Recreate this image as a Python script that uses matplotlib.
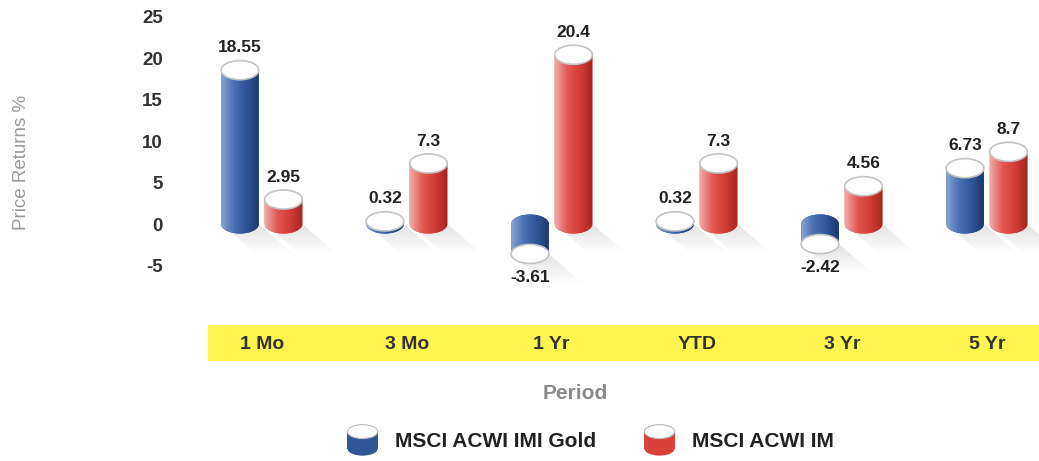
import numpy as np
import matplotlib
matplotlib.use("Agg")
import matplotlib.pyplot as plt
from matplotlib.path import Path
from matplotlib.patches import PathPatch, Ellipse, Rectangle, Polygon, Patch
from matplotlib.colors import LinearSegmentedColormap
from matplotlib.legend_handler import HandlerBase

plt.rcParams['font.family'] = ['Liberation Sans', 'DejaVu Sans']
plt.rcParams['axes.unicode_minus'] = False

# data
periods = ['1 Mo', '3 Mo', '1 Yr', 'YTD', '3 Yr', '5 Yr']
gold = [18.55, 0.32, -3.61, 0.32, -2.42, 6.73]
acwi = [2.95, 7.3, 20.4, 7.3, 4.56, 8.7]
series_names = ['MSCI ACWI IMI Gold', 'MSCI ACWI IM']

blue_cmap = LinearSegmentedColormap.from_list('b', ['#8aa6d2', '#4870b4', '#2e5698', '#1c3a6c'])
red_cmap = LinearSegmentedColormap.from_list('r', ['#f2aaa6', '#e2574f', '#d03c35', '#a52520'])
blue_main = '#2f5796'
red_main = '#d8423b'

W = 0.26     # bar width (x units)
EH = 2.3     # ellipse height (y units)
OFF = 0.15

shadow_rgba = np.zeros((64, 2, 4))
shadow_rgba[..., :3] = 0.6
shadow_rgba[..., 3] = np.linspace(0.0, 0.28, 64)[:, None]


def half_ellipse(cx, cy, w, h, upper):
    t = np.linspace(0, np.pi, 40) if upper else np.linspace(np.pi, 2 * np.pi, 40)
    return np.column_stack([cx + w / 2 * np.cos(t), cy + h / 2 * np.sin(t)])


def cylinder(ax, cx, v, cmap, main):
    lo, hi = min(0, v), max(0, v)
    # soft shadow falling to the lower right
    dx, dy = 0.24, 3.6
    sh = Polygon([(cx - W / 2, lo), (cx + W / 2, lo), (cx + W / 2 + dx, lo - dy),
                  (cx - W / 2 + dx, lo - dy)], closed=True, facecolor='none',
                 edgecolor='none')
    ax.add_patch(sh)
    sim = ax.imshow(shadow_rgba, extent=(cx - W / 2, cx + W / 2 + dx, lo - dy, lo),
                    aspect='auto', zorder=1, origin='lower', interpolation='bilinear')
    sim.set_clip_path(sh)

    bot = half_ellipse(cx, lo, W, EH, False)
    verts = np.vstack([half_ellipse(cx, hi, W, EH, True), bot])
    path = Path(np.vstack([verts, verts[:1]]), closed=True)
    patch = PathPatch(path, facecolor=main, edgecolor='none', zorder=2)
    ax.add_patch(patch)
    grad = np.linspace(0, 1, 256).reshape(1, -1)
    im = ax.imshow(grad, extent=(cx - W / 2, cx + W / 2, lo - EH / 2, hi + EH / 2),
                   cmap=cmap, aspect='auto', zorder=3, interpolation='bilinear')
    im.set_clip_path(patch)
    ax.add_patch(Ellipse((cx, v), W, EH, facecolor='white', edgecolor='#c4c4c4',
                         lw=1.2, zorder=4))


class CylHandler(HandlerBase):
    def __init__(self, color, cmap):
        super().__init__()
        self.color = color
        self.cmap = cmap

    def create_artists(self, legend, orig_handle, xdescent, ydescent, width, height,
                       fontsize, trans):
        x0, y0 = -xdescent, -ydescent - 3
        height = height + 6
        eh = height * 0.45
        w = width
        body = Rectangle((x0, y0 + eh / 2), w, height - eh, facecolor=self.color,
                         edgecolor='none', transform=trans)
        b = Ellipse((x0 + w / 2, y0 + eh / 2), w, eh, facecolor=self.color,
                    edgecolor='none', transform=trans)
        t = Ellipse((x0 + w / 2, y0 + height - eh / 2), w, eh, facecolor='white',
                    edgecolor='#bbbbbb', lw=0.8, transform=trans)
        return [b, body, t]


fig = plt.figure(figsize=(10.39, 4.61), dpi=100)
ax = fig.add_axes([195 / 1039, (461 - 300) / 461, 844 / 1039, 295 / 461])

x = np.arange(len(periods))
for i in range(len(periods)):
    cylinder(ax, x[i] - OFF, gold[i], blue_cmap, blue_main)
    cylinder(ax, x[i] + OFF, acwi[i], red_cmap, red_main)
    for xv, v in ((x[i] - OFF, gold[i]), (x[i] + OFF, acwi[i])):
        if v >= 0:
            ax.text(xv, v + 1.8, f'{v:g}', ha='center', va='bottom', fontsize=12.5,
                    fontweight='bold', color='#222222', zorder=5)
        else:
            ax.text(xv, v - 1.9, f'{v:g}', ha='center', va='top', fontsize=12.5,
                    fontweight='bold', color='#222222', zorder=5)

ax.set_xlim(-0.46, 5.36)
ax.set_ylim(-9.16, 26.4)
ax.patch.set_visible(False)
for s in ax.spines.values():
    s.set_visible(False)

ax.set_yticks(np.arange(-5, 30, 5))
ax.tick_params(axis='y', length=0, pad=23, labelsize=13.5, labelcolor='#333333')
for lab in ax.get_yticklabels():
    lab.set_fontweight('bold')
ax.set_xticks(x, periods)
ax.tick_params(axis='x', length=0, pad=26, labelsize=14, labelcolor='#333333')
for lab in ax.get_xticklabels():
    lab.set_fontweight('bold')

# yellow band behind category labels
fig.patches.append(Rectangle((208 / 1039, (461 - 361) / 461), (1039 - 208) / 1039, 36 / 461,
                             transform=fig.transFigure, facecolor='#fff450',
                             edgecolor='none', zorder=-1))

ax.set_ylabel('Price Returns %', fontsize=13.5, color='#9a9a9a')
ax.yaxis.set_label_coords(-0.195, 0.468)
ax.set_xlabel('Period', fontsize=15, color='#8a8a8a', fontweight='bold')
ax.xaxis.set_label_coords(0.45, -0.285)

h1 = Patch(label=series_names[0])
h2 = Patch(label=series_names[1])
leg = ax.legend([h1, h2], series_names, loc='center', bbox_to_anchor=(0.469, -0.475),
                ncol=2, frameon=False, handlelength=1.45, handleheight=1.3,
                columnspacing=2.3, handletextpad=0.85,
                handler_map={h1: CylHandler(blue_main, blue_cmap),
                             h2: CylHandler(red_main, red_cmap)},
                prop={'size': 15, 'weight': 'bold'})
for t in leg.get_texts():
    t.set_color('#222222')

fig.savefig('out.png', dpi=100)
